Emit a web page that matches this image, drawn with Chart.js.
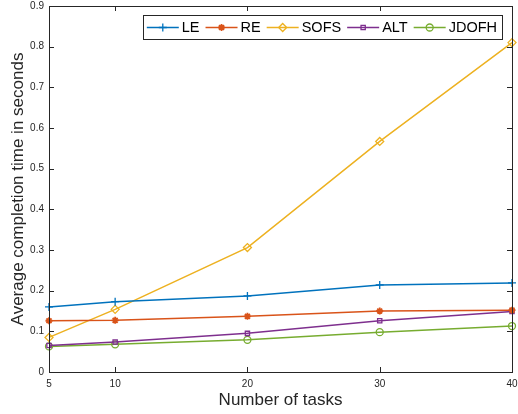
<!DOCTYPE html>
<html>
<head>
<meta charset="utf-8">
<script src="https://cdn.jsdelivr.net/npm/chart.js@4.4.0/dist/chart.umd.min.js"></script>
<style>
  html, body { margin: 0; padding: 0; background: #fff; }
  #wrap { width: 518px; height: 414px; }
</style>
</head>
<body>
<div id="wrap"><canvas id="chart"></canvas></div>
<script>
// values
var tasks = [5, 10, 20, 30, 40]
var seriesNames = ['LE', 'RE', 'SOFS', 'ALT', 'JDOFH']
var leTimes = [0.160, 0.173, 0.187, 0.214, 0.219]
var reTimes = [0.126, 0.127, 0.137, 0.150, 0.152]
var sofsTimes = [0.085, 0.154, 0.306, 0.567, 0.810]
var altTimes = [0.065, 0.074, 0.095, 0.126, 0.149]
var jdofhTimes = [0.063, 0.068, 0.079, 0.098, 0.113]
var yTicks = [0, 0.1, 0.2, 0.3, 0.4, 0.5, 0.6, 0.7, 0.8, 0.9]

var FONT = '"Liberation Sans", Arial, Helvetica, sans-serif'
var AXIS = '#262626'

function points(ys) {
  return tasks.map(function (t, i) { return { x: t, y: ys[i] } })
}

function series(i, ys, color, style, radius, fill, markerWidth) {
  return {
    label: seriesNames[i],
    data: points(ys),
    borderColor: color,
    backgroundColor: color,
    borderWidth: 1.5,
    pointStyle: style,
    pointRadius: radius,
    pointHoverRadius: radius,
    pointBorderWidth: markerWidth,
    pointBackgroundColor: fill ? color : 'rgba(0,0,0,0)',
    pointBorderColor: color,
    tension: 0,
    clip: false
  }
}

var datasets = [
  series(0, leTimes, '#0072BD', 'cross', 4, false, 1.3),
  series(1, reTimes, '#D95319', 'star', 3.5, true, 1.8),
  series(2, sofsTimes, '#EDB120', 'rectRot', 4, false, 1.3),
  series(3, altTimes, '#7E2F8E', 'rect', 3, false, 1.3),
  series(4, jdofhTimes, '#77AC30', 'circle', 3.5, false, 1.3)
]

// MATLAB-like box with inward ticks on all four sides
var boxPlugin = {
  id: 'matlabBox',
  afterDatasetsDraw: function (chart) {
    var ctx = chart.ctx
    var a = chart.chartArea
    var xs = chart.scales.x
    var ys = chart.scales.y
    var tl = 5
    ctx.save()
    ctx.strokeStyle = AXIS
    ctx.lineWidth = 1
    ctx.beginPath()
    xs.ticks.forEach(function (t) {
      var px = Math.round(xs.getPixelForValue(t.value)) + 0.5
      ctx.moveTo(px, a.bottom); ctx.lineTo(px, a.bottom - tl)
      ctx.moveTo(px, a.top); ctx.lineTo(px, a.top + tl)
    })
    ys.ticks.forEach(function (t) {
      var py = Math.round(ys.getPixelForValue(t.value)) + 0.5
      ctx.moveTo(a.left, py); ctx.lineTo(a.left + tl, py)
      ctx.moveTo(a.right, py); ctx.lineTo(a.right - tl, py)
    })
    ctx.stroke()
    ctx.strokeRect(Math.round(a.left) + 0.5, Math.round(a.top) + 0.5,
      Math.round(a.right - a.left), Math.round(a.bottom - a.top))
    ctx.restore()
  }
}

// legend drawn inside the axes, MATLAB style (line through marker)
var legendPlugin = {
  id: 'insideLegend',
  afterDraw: function (chart) {
    var ctx = chart.ctx
    var a = chart.chartArea
    ctx.save()
    ctx.font = '14.5px ' + FONT
    var lineLen = 32, gapText = 3, gapItem = 6, padL = 4, padR = 5
    var total = padL
    chart.data.datasets.forEach(function (d, i) {
      total += lineLen + gapText + ctx.measureText(d.label).width
      if (i < chart.data.datasets.length - 1) total += gapItem
    })
    total += padR
    var h = 24
    var right = a.right - 10
    var left = right - total
    var top = a.top + 9
    ctx.fillStyle = '#fff'
    ctx.fillRect(left, top, total, h)
    ctx.strokeStyle = AXIS
    ctx.lineWidth = 1
    ctx.strokeRect(Math.round(left) + 0.5, Math.round(top) + 0.5, Math.round(total), h)
    var x = left + padL
    var cy = top + h / 2 + 0.5
    chart.data.datasets.forEach(function (d) {
      ctx.strokeStyle = d.borderColor
      ctx.lineWidth = 1.5
      ctx.beginPath()
      ctx.moveTo(x, cy); ctx.lineTo(x + lineLen, cy)
      ctx.stroke()
      ctx.fillStyle = d.pointBackgroundColor
      ctx.lineWidth = d.pointBorderWidth
      Chart.helpers.drawPoint(ctx, {
        pointStyle: d.pointStyle, radius: d.pointRadius, rotation: 0, borderWidth: d.pointBorderWidth
      }, x + lineLen / 2, cy)
      ctx.fillStyle = '#000'
      ctx.textBaseline = 'middle'
      ctx.textAlign = 'left'
      ctx.fillText(d.label, x + lineLen + gapText, cy)
      x += lineLen + gapText + ctx.measureText(d.label).width + gapItem
    })
    ctx.restore()
  }
}

new Chart(document.getElementById('chart'), {
  type: 'line',
  data: { datasets: datasets },
  options: {
    responsive: true,
    maintainAspectRatio: false,
    animation: false,
    events: [],
    layout: { padding: { top: 6, right: 6, left: 0, bottom: 0 } },
    plugins: {
      legend: { display: false },
      tooltip: { enabled: false }
    },
    scales: {
      x: {
        type: 'linear',
        min: 5,
        max: 40,
        afterBuildTicks: function (s) {
          s.ticks = tasks.map(function (v) { return { value: v } })
        },
        afterFit: function (s) {
          s.height = 42
          s.paddingLeft = 0
          s.paddingRight = 0
        },
        grid: { display: false, drawTicks: false },
        border: { display: false },
        ticks: {
          color: AXIS,
          padding: 6,
          maxRotation: 0,
          font: { family: FONT, size: 10 }
        },
        title: {
          display: true,
          text: 'Number of tasks',
          color: AXIS,
          padding: { top: 0, bottom: 3 },
          font: { family: FONT, size: 17 }
        }
      },
      y: {
        type: 'linear',
        min: 0,
        max: 0.9,
        afterBuildTicks: function (s) {
          s.ticks = yTicks.map(function (v) { return { value: v } })
        },
        afterFit: function (s) {
          s.width = 49
          s.paddingTop = 0
          s.paddingBottom = 0
        },
        grid: { display: false, drawTicks: false },
        border: { display: false },
        ticks: {
          color: AXIS,
          padding: 5,
          font: { family: FONT, size: 10 },
          callback: function (v) { return String(Math.round(v * 10) / 10) }
        },
        title: {
          display: true,
          text: 'Average completion time in seconds',
          color: AXIS,
          padding: { top: 8, bottom: 0 },
          font: { family: FONT, size: 17 }
        }
      }
    }
  },
  plugins: [boxPlugin, legendPlugin]
})
</script>
</body>
</html>
